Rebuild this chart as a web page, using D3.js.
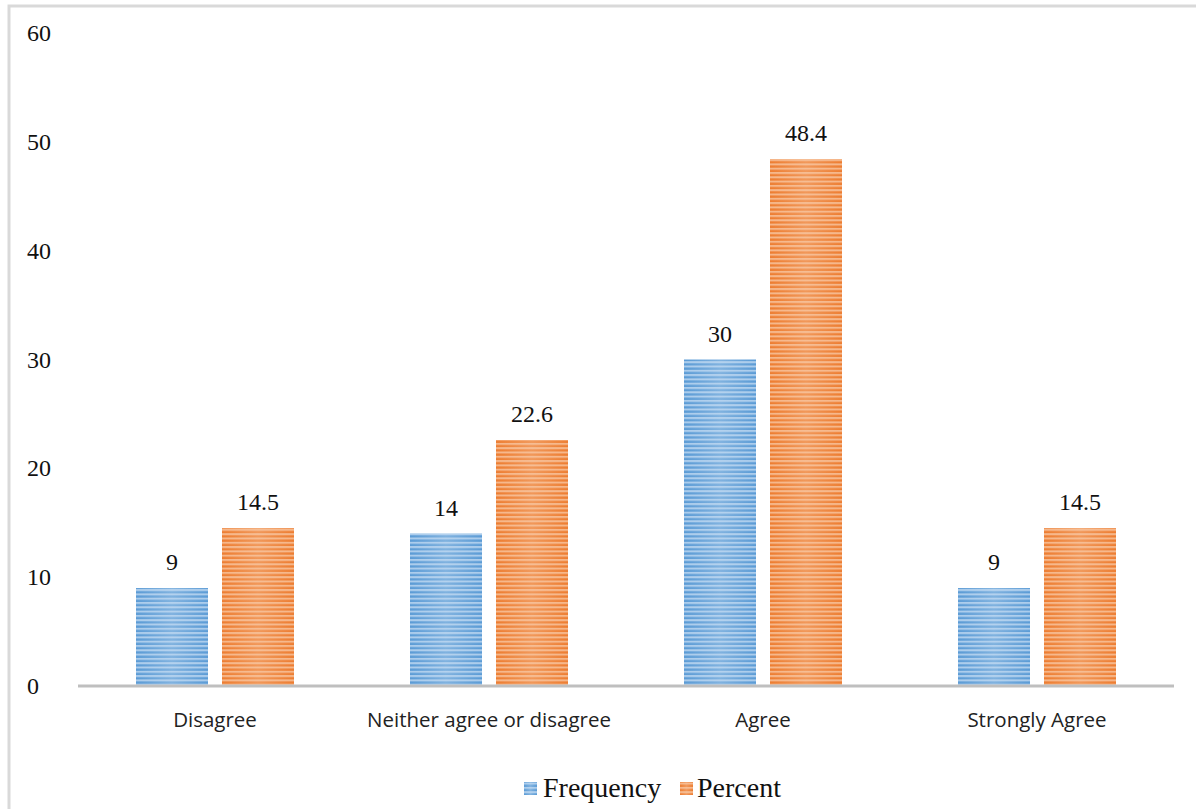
<!DOCTYPE html>
<html>
<head>
<meta charset="utf-8">
<script src="https://cdn.jsdelivr.net/npm/d3@7"></script>
<style>
  html, body { margin: 0; padding: 0; background: #fff; }
  svg { display: block; }
</style>
</head>
<body>
<svg id="chart" width="1196" height="809"></svg>
<script>
// Survey responses: frequency and percent per answer
const categories = ["Disagree", "Neither agree or disagree", "Agree", "Strongly Agree"];
const seriesNames = ["Frequency", "Percent"];
const frequency = [9, 14, 30, 9];
const percent = [14.5, 22.6, 48.4, 14.5];
const yTicks = [0, 10, 20, 30, 40, 50, 60];

const W = 1196, H = 809;
const svg = d3.select("#chart");

// chart frame (left and top edges visible)
svg.append("rect").attr("x", 9).attr("y", 6).attr("width", W).attr("height", H)
  .attr("fill", "#fff").attr("stroke", "#d9d9d9").attr("stroke-width", 3);

const plot = { left: 78, right: 1174, top: 33, bottom: 686 };

const x = d3.scaleBand().domain(categories).range([plot.left, plot.right]);
const y = d3.scaleLinear().domain([0, 60]).range([plot.bottom, plot.top]);

const barW = 72, gap = 14;
const colors = {
  Frequency: { dark: "#5b9bd5", light: "#c5dcf2" },
  Percent: { dark: "#ed7d31", light: "#f8c9a6" }
};

// striped, softly shaded fills
const defs = svg.append("defs");
seriesNames.forEach((s, i) => {
  const c = colors[s];
  const g = defs.append("linearGradient").attr("id", "shade" + i)
    .attr("x1", "0").attr("x2", "1").attr("y1", "0").attr("y2", "0");
  g.append("stop").attr("offset", "0%").attr("stop-color", c.dark);
  g.append("stop").attr("offset", "50%").attr("stop-color", d3.interpolateRgb(c.dark, c.light)(0.35));
  g.append("stop").attr("offset", "100%").attr("stop-color", c.dark);
  const p = defs.append("pattern").attr("id", "stripe" + i)
    .attr("patternUnits", "userSpaceOnUse").attr("width", 8).attr("height", 4.3);
  p.append("rect").attr("width", 8).attr("height", 2).attr("fill", c.light).attr("opacity", 0.75);
});

const series = [frequency, percent];
const offsets = [-(barW + gap / 2), gap / 2];

series.forEach((vals, i) => {
  const grp = svg.append("g");
  const xs = d => x(d) + x.bandwidth() / 2 + offsets[i];
  grp.selectAll("rect.base").data(categories).enter().append("rect")
    .attr("x", xs).attr("width", barW)
    .attr("y", (d, k) => y(vals[k])).attr("height", (d, k) => y(0) - y(vals[k]))
    .attr("fill", "url(#shade" + i + ")");
  grp.selectAll("rect.stripes").data(categories).enter().append("rect")
    .attr("x", xs).attr("width", barW)
    .attr("y", (d, k) => y(vals[k])).attr("height", (d, k) => y(0) - y(vals[k]))
    .attr("fill", "url(#stripe" + i + ")");
  grp.selectAll("text").data(categories).enter().append("text")
    .attr("x", d => xs(d) + barW / 2)
    .attr("y", (d, k) => y(vals[k]) - 18)
    .attr("text-anchor", "middle")
    .attr("font-family", "'Liberation Serif', 'Times New Roman', serif")
    .attr("font-size", 24).attr("fill", "#111")
    .text((d, k) => vals[k]);
});

// baseline
svg.append("line").attr("x1", plot.left).attr("x2", plot.right)
  .attr("y1", y(0)).attr("y2", y(0))
  .attr("stroke", "#bfbfbf").attr("stroke-width", 3);

// y tick labels
svg.append("g").selectAll("text").data(yTicks).enter().append("text")
  .attr("x", 27).attr("y", d => y(d) + 8)
  .attr("font-family", "'Liberation Serif', 'Times New Roman', serif")
  .attr("font-size", 24).attr("fill", "#111")
  .text(d => d);

// category labels
svg.append("g").selectAll("text").data(categories).enter().append("text")
  .attr("x", d => x(d) + x.bandwidth() / 2).attr("y", 727)
  .attr("text-anchor", "middle")
  .attr("font-family", "'Open Sans', 'Liberation Sans', sans-serif")
  .attr("font-size", 20.5).attr("fill", "#222")
  .text(d => d);

// legend
const legend = svg.append("g");
const legendItems = [
  { name: "Frequency", sw: 524, tx: 543 },
  { name: "Percent", sw: 680, tx: 697 }
];
legendItems.forEach((it, i) => {
  legend.append("rect").attr("x", it.sw).attr("y", 782).attr("width", 13).attr("height", 13)
    .attr("fill", "url(#shade" + i + ")");
  legend.append("rect").attr("x", it.sw).attr("y", 782).attr("width", 13).attr("height", 13)
    .attr("fill", "url(#stripe" + i + ")");
  legend.append("text").attr("x", it.tx).attr("y", 797)
    .attr("font-family", "'Liberation Serif', 'Times New Roman', serif")
    .attr("font-size", 28).attr("fill", "#111")
    .text(it.name);
});
</script>
</body>
</html>
